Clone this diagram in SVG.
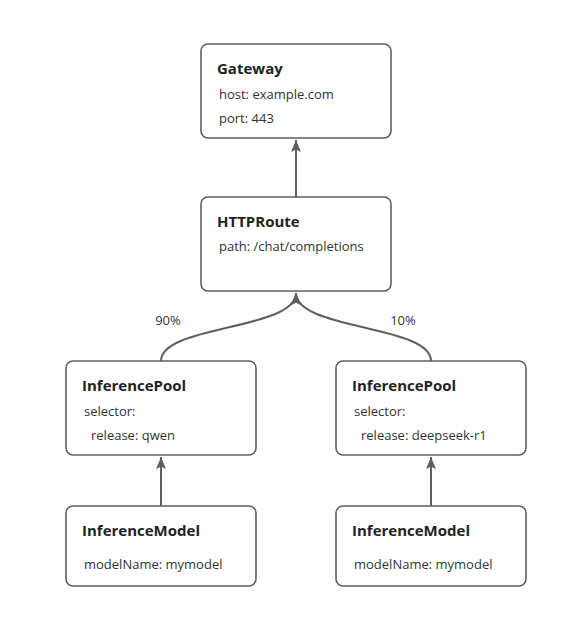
<svg xmlns="http://www.w3.org/2000/svg" width="582" height="628" viewBox="0 0 582 628">
<defs>
<style>
.box{fill:#fff;stroke:#5f5f5f;stroke-width:1.6}
.t{font-family:"Open Sans","Noto Sans","DejaVu Sans",sans-serif;font-size:15px;font-weight:bold;fill:#222}
.b{font-family:"Open Sans","Noto Sans","DejaVu Sans",sans-serif;font-size:13px;fill:#333}
.e{fill:none;stroke:#5f5f5f;stroke-width:2}
</style>
<marker id="arr" viewBox="0 0 12 14" refX="12" refY="7" markerWidth="12" markerHeight="14" markerUnits="userSpaceOnUse" orient="auto">
<path d="M0,2 L12,7 L0,12 L2.5,7 Z" fill="#5f5f5f"/>
</marker>
</defs>
<rect width="582" height="628" fill="#fff"/>
<g id="connectors">
<path class="e" d="M296,197 L296,140" marker-end="url(#arr)"/>
<path class="e" d="M161,361 C161,325 296,330 296,293" marker-end="url(#arr)"/>
<path class="e" d="M431,361 C431,325 296,330 296,293" marker-end="url(#arr)"/>
<path class="e" d="M161,506 L161,457" marker-end="url(#arr)"/>
<path class="e" d="M431,506 L431,457" marker-end="url(#arr)"/>
<text class="b" x="168" y="325" text-anchor="middle">90%</text>
<text class="b" x="403" y="325" text-anchor="middle">10%</text>
</g>
<g id="gateway">
<rect class="box" x="201" y="44" width="190" height="94" rx="7"/>
<text class="t" x="217" y="74">Gateway</text>
<text class="b" x="219" y="99">host: example.com</text>
<text class="b" x="219" y="123">port: 443</text>
</g>
<g id="httproute">
<rect class="box" x="201" y="197" width="190" height="94" rx="7"/>
<text class="t" x="217" y="227">HTTPRoute</text>
<text class="b" x="219" y="251">path: /chat/completions</text>
</g>
<g id="pool-qwen">
<rect class="box" x="66" y="361" width="190" height="94" rx="7"/>
<text class="t" x="82" y="391">InferencePool</text>
<text class="b" x="84" y="416">selector:</text>
<text class="b" x="91" y="440">release: qwen</text>
</g>
<g id="pool-deepseek">
<rect class="box" x="336" y="361" width="190" height="94" rx="7"/>
<text class="t" x="352" y="391">InferencePool</text>
<text class="b" x="354" y="416">selector:</text>
<text class="b" x="361" y="440">release: deepseek-r1</text>
</g>
<g id="model-qwen">
<rect class="box" x="66" y="506" width="190" height="80" rx="7"/>
<text class="t" x="82" y="536">InferenceModel</text>
<text class="b" x="84" y="569">modelName: mymodel</text>
</g>
<g id="model-deepseek">
<rect class="box" x="336" y="506" width="190" height="80" rx="7"/>
<text class="t" x="352" y="536">InferenceModel</text>
<text class="b" x="354" y="569">modelName: mymodel</text>
</g>
</svg>
